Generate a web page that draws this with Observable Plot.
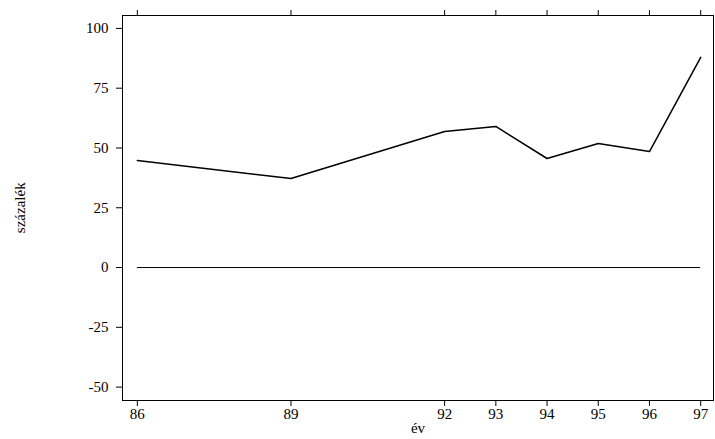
<!DOCTYPE html>
<html><head><meta charset="utf-8">
<script src="https://cdn.jsdelivr.net/npm/d3@7"></script>
<script src="https://cdn.jsdelivr.net/npm/@observablehq/plot@0.6"></script>
<style>body{margin:0;background:#fff} #chart svg, #chart svg text{font-family:"Liberation Serif","Times New Roman",Times,serif !important}</style>
</head><body><div id="chart"></div>
<script>
const years = [86, 89, 92, 93, 94, 95, 96, 97]
const values = [44.8, 37.2, 56.9, 59, 45.6, 51.9, 48.5, 87.9]
const yTicks = [-50, -25, 0, 25, 50, 75, 100]

const data = years.map((y, i) => ({year: y, value: values[i]}))

const chart = Plot.plot({
  width: 715,
  height: 439,
  marginLeft: 122,
  marginRight: 2,
  marginTop: 15,
  marginBottom: 39,
  style: {fontSize: "15px", color: "#000", background: "#fff"},
  x: {domain: [85.71, 97.25], label: null},
  y: {domain: [-55.6, 105.4], label: null},
  marks: [
    Plot.frame({stroke: "#000"}),
    Plot.axisX({ticks: years, tickFormat: d => String(d), tickSize: 6, tickPadding: 2, fontSize: 15}),
    Plot.axisX({anchor: "top", ticks: years, tickFormat: () => "", tickSize: 6}),
    Plot.axisY({ticks: yTicks, tickFormat: d => String(d), tickSize: 6, tickPadding: 8, fontSize: 15}),
    Plot.text(["év"], {frameAnchor: "bottom", dy: 32, fontSize: 15}),
    Plot.text(["százalék"], {x: 85.71, y: 25, dx: -102, rotate: -90, fontSize: 15}),
    Plot.ruleY([0], {x1: 86, x2: 97, stroke: "#000"}),
    Plot.line(data, {x: "year", y: "value", stroke: "#000"})
  ]
})
document.getElementById("chart").append(chart)
</script>
</body></html>
